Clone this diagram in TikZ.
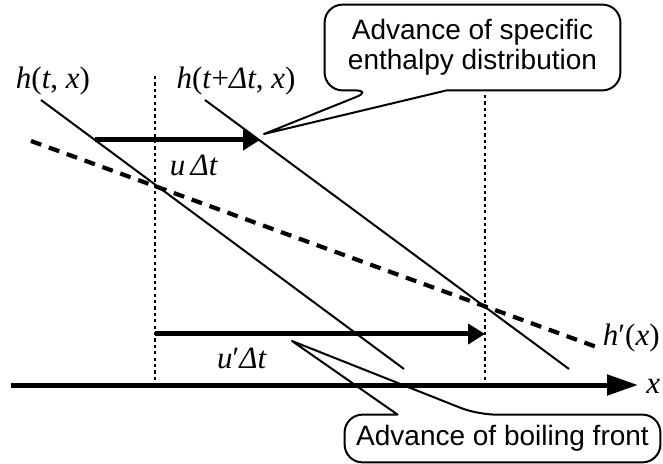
\documentclass[tikz,border=0pt]{standalone}
\usepackage{fontspec}
\setmainfont{Liberation Serif}
\newfontfamily\calloutfont{Liberation Sans}
\usetikzlibrary{arrows.meta,calc,positioning}

\begin{document}
\begin{tikzpicture}[x=0.5pt, y=-0.5pt,
    profile/.style={line width=1pt},
    slope/.style={line width=2.1pt, dash pattern=on 5.5pt off 4pt},
    guide/.style={line width=1pt, dash pattern=on 1.6pt off 1.6pt},
    shiftarrow/.style={line width=2.5pt, -{Triangle[length=8.5pt,width=10pt]}},
    axisarrow/.style={line width=2.5pt, -{Triangle[length=15.5pt,width=10pt]}},
    balloon/.style={line width=1pt, line join=round},
    balloontext/.style={font=\calloutfont\fontsize{14}{15}\selectfont, align=center, inner sep=0pt},
    lbl/.style={font=\fontsize{15.5}{16}\selectfont, inner sep=0pt}]
  \useasboundingbox[fill=white] (0,0) rectangle (663,464);
  % enthalpy profiles
  \coordinate (ha) at (41,100);
  \coordinate (hb) at (404,369);
  \coordinate (hc) at (205,100);
  \coordinate (hd) at (569,369);
  \draw[profile] (ha) -- (hb);
  \draw[profile] (hc) -- (hd);
  % saturation line
  \coordinate (pa) at (31,141);
  \coordinate (pb) at (598,347.5);
  \draw[slope] (pa) -- (pb);
  % guides
  \coordinate (g1t) at (155,76);
  \coordinate (g1b) at (155,385);
  \coordinate (g2t) at (485,95);
  \coordinate (g2b) at (485,385);
  \draw[guide] (g1t) -- (g1b);
  \draw[guide] (g2t) -- (g2b);
  % axis
  \coordinate (ox) at (11,385);
  \coordinate (xend) at (638,385);
  \draw[axisarrow] (ox) -- (xend);
  \node[lbl, anchor=west] (xlbl) at (646,386) {\textit{x}};
  % advances
  \coordinate (ua) at (95,140);
  \coordinate (ub) at (260,140);
  \draw[shiftarrow] (ua) -- (ub);
  \coordinate (va) at (155,334);
  \coordinate (vb) at (485,334);
  \draw[shiftarrow] (va) -- (vb);
  % labels
  \node[lbl] (hnow) at (53,81) {\textit{h}(\textit{t}, \textit{x})};
  \node[lbl] (hnext) at (236,81) {\textit{h}(\textit{t}+\textit{Δt}, \textit{x})};
  \node[lbl] (ulbl) at (194,165) {\textit{u}\,\textit{Δt}};
  \node[lbl] (vlbl) at (242,358) {\textit{u}′\textit{Δt}};
  \node[lbl, anchor=east] (hplbl) at (660,338) {\textit{h}′(\textit{x})};
  % callouts
  \node[balloontext, minimum width=147.5pt, minimum height=42.5pt] (enth) at (472.5,47.5)
    {Advance of specific\\enthalpy distribution};
  \coordinate (enthtip) at (264,134);
  \draw[balloon] (enthtip) -- ($(enth.south west)+(122,0)$) [rounded corners=9pt]
    -- (enth.south east) -- (enth.north east) -- (enth.north west) -- (enth.south west)
    -- ($(enth.south west)+(48,0)$) [sharp corners] -- cycle;
  \node[balloontext, minimum width=157.5pt, minimum height=23.5pt] (boil) at (502.5,438.5)
    {Advance of boiling front};
  \coordinate (boiltip) at (292,341);
  \draw[balloon] (boiltip) -- ($(boil.north west)+(53,0)$) [rounded corners=9pt]
    -- (boil.north west) -- (boil.south west) -- (boil.south east) -- (boil.north east)
    -- ($(boil.north west)+(133,0)$) [sharp corners] -- cycle;
\end{tikzpicture}
\end{document}
